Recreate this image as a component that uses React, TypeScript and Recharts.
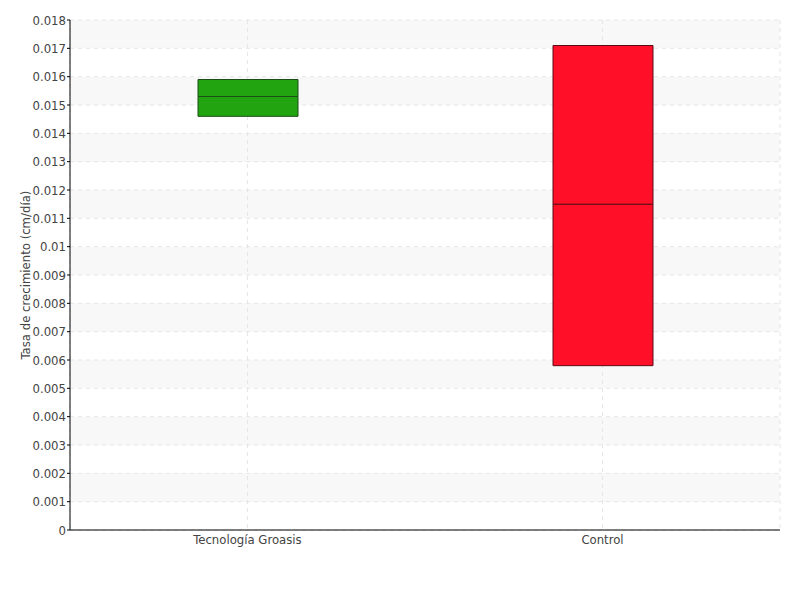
import { Bar, BarChart, CartesianGrid, Cell, Label, XAxis, YAxis } from "recharts";

const categories = ["Tecnología Groasis", "Control"];
const q1 = [0.0146, 0.0058];
const median = [0.0153, 0.0115];
const q3 = [0.0159, 0.0171];

const fills = ["#22a410", "#ff0f28"];
const strokes = ["#1c4f16", "#5c0a14"];

const yTicks = [
  0, 0.001, 0.002, 0.003, 0.004, 0.005, 0.006, 0.007, 0.008, 0.009, 0.01,
  0.011, 0.012, 0.013, 0.014, 0.015, 0.016, 0.017, 0.018,
];
const minorTicks = [
  0.0005, 0.0015, 0.0025, 0.0035, 0.0045, 0.0055, 0.0065, 0.0075, 0.0085,
  0.0095, 0.0105, 0.0115, 0.0125, 0.0135, 0.0145, 0.0155, 0.0165, 0.0175,
];

const data = categories.map((name, i) => ({
  name,
  base: q1[i],
  lower: median[i] - q1[i],
  upper: q3[i] - median[i],
}));

const tickStyle = {
  fill: "#444",
  fontSize: 13,
  fontFamily: "'DejaVu Sans', sans-serif",
  fontStretch: "condensed",
};

export default function App() {
  return (
    <div style={{ position: "absolute", left: 0, top: 0, background: "#fff" }}>
      <BarChart
        width={800}
        height={600}
        data={data}
        margin={{ top: 20, right: 20, bottom: 40, left: 0 }}
      >
        <CartesianGrid
          yAxisId="main"
          strokeDasharray="4 4"
          stroke="#e6e6e6"
          horizontalFill={["#f8f8f8", "#ffffff"]}
          fillOpacity={1}
        />
        <XAxis
          dataKey="name"
          axisLine={{ stroke: "#000" }}
          tickLine={false}
          tick={tickStyle}
          tickMargin={-1}
        />
        <YAxis
          yAxisId="main"
          width={70}
          domain={[0, 0.018]}
          ticks={yTicks}
          interval={0}
          axisLine={{ stroke: "#000" }}
          tickLine={{ stroke: "#000" }}
          tickSize={3}
          tickMargin={1}
          tick={tickStyle}
        >
          <Label
            value="Tasa de crecimiento (cm/día)"
            angle={-90}
            position="center"
            dx={-10}
            style={tickStyle}
          />
        </YAxis>
        <YAxis
          yAxisId="minor"
          width={0}
          domain={[0, 0.018]}
          ticks={minorTicks}
          interval={0}
          axisLine={false}
          tickLine={{ stroke: "#ff2020", strokeWidth: 1 }}
          tickSize={3}
          tickFormatter={() => ""}
        />
        <Bar yAxisId="main" dataKey="base" stackId="box" fill="transparent" barSize={100} isAnimationActive={false} />
        <Bar yAxisId="main" dataKey="lower" stackId="box" barSize={100} isAnimationActive={false}>
          {data.map((d, i) => (
            <Cell key={d.name} fill={fills[i]} stroke={strokes[i]} strokeWidth={1} />
          ))}
        </Bar>
        <Bar yAxisId="main" dataKey="upper" stackId="box" barSize={100} isAnimationActive={false}>
          {data.map((d, i) => (
            <Cell key={d.name} fill={fills[i]} stroke={strokes[i]} strokeWidth={1} />
          ))}
        </Bar>
      </BarChart>
    </div>
  );
}
